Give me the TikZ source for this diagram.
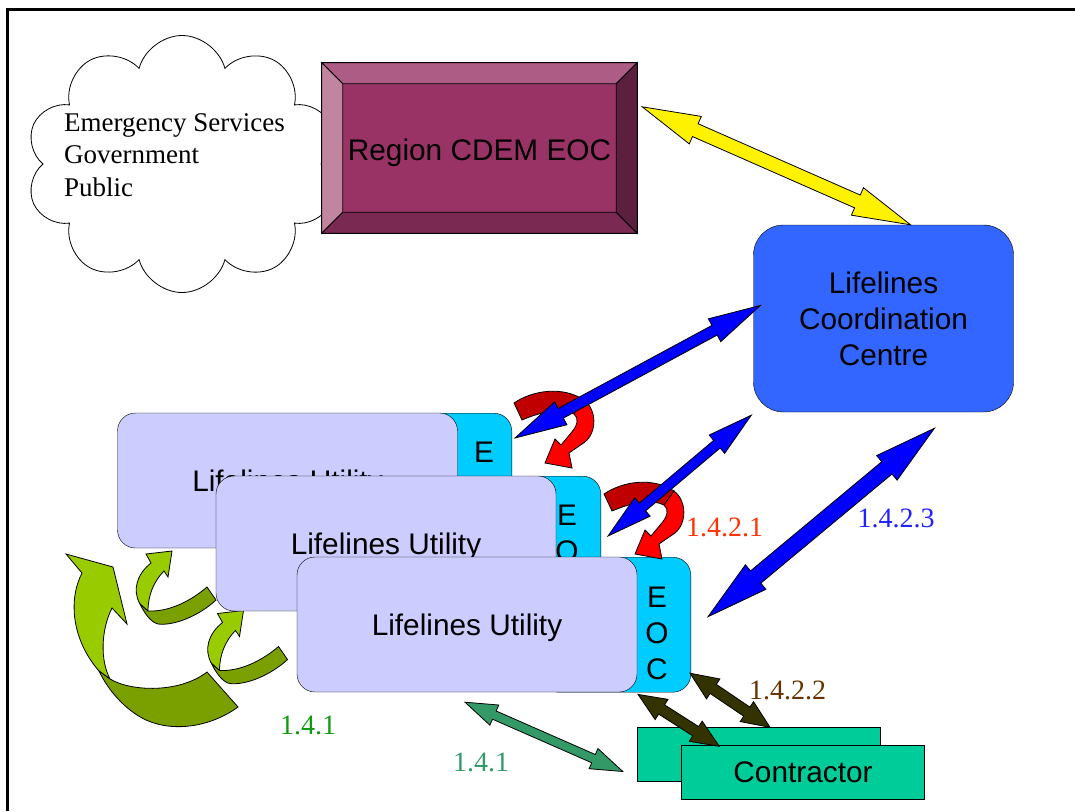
\documentclass[tikz,border=0pt]{standalone}
\usepackage{fontspec}
\setmainfont{Liberation Serif}
\setsansfont{Liberation Sans}
\usetikzlibrary{calc,shapes.symbols}

\definecolor{regionface}{HTML}{993366}
\definecolor{regiontop}{HTML}{AD5C85}
\definecolor{regionleft}{HTML}{C2859F}
\definecolor{regionbottom}{HTML}{7A2952}
\definecolor{regionright}{HTML}{5C1F3D}
\definecolor{lccblue}{HTML}{3366FF}
\definecolor{utillav}{HTML}{CCCCFF}
\definecolor{eoccyan}{HTML}{00CCFF}
\definecolor{contrgreen}{HTML}{00CC99}
\definecolor{seagreen}{HTML}{339966}
\definecolor{olivedark}{HTML}{333300}
\definecolor{leaflight}{HTML}{99CC00}
\definecolor{leafdark}{HTML}{7AA000}
\definecolor{reddark}{HTML}{C00000}
\definecolor{lblgreen}{HTML}{119911}
\definecolor{lblred}{HTML}{FF3300}
\definecolor{lblblue}{HTML}{2222FF}
\definecolor{lblbrown}{HTML}{663300}

\tikzset{
  sanstext/.style={font=\sffamily\fontsize{29.8}{36}\selectfont},
  seriftext/.style={font=\fontsize{28}{33}\selectfont},
  utilbox/.style={draw, fill=utillav, rounded corners=18, minimum width=340,
    minimum height=135, text depth=0, sanstext},
  eocbox/.style={draw, fill=eoccyan, rounded corners=18, minimum width=150,
    minimum height=135},
  eocletters/.style={sanstext, align=center},
  contrbox/.style={draw, fill=contrgreen, minimum width=243, minimum height=54, sanstext},
  blockline/.style={draw=black, line width=0.8, line join=miter},
}

% double block arrow: style, from, to, head length, head half width, shaft half width
\newcommand{\blockarrow}[6]{%
  \coordinate (ba-s) at ($(#2)!#4pt!(#3)$);
  \coordinate (ba-e) at ($(#3)!#4pt!(#2)$);
  \path[blockline, #1] (#2) -- ($(ba-s)!#5pt!90:(#3)$) -- ($(ba-s)!#6pt!90:(#3)$)
    -- ($(ba-e)!#6pt!-90:(#2)$) -- ($(ba-e)!#5pt!-90:(#2)$) -- (#3)
    -- ($(ba-e)!#5pt!90:(#2)$) -- ($(ba-e)!#6pt!90:(#2)$)
    -- ($(ba-s)!#6pt!-90:(#3)$) -- ($(ba-s)!#5pt!-90:(#3)$) -- cycle;
}

\begin{document}
\begin{tikzpicture}[x=1pt, y=-1pt]
    \useasboundingbox (0,0) rectangle (1075,811);
    \draw[line width=3] (7,811) -- (7,9) -- (1075,9);

    % cloud
    \node[cloud, draw, fill=white, cloud puffs=10, aspect=1.2, line width=0.8,
        minimum width=312, minimum height=257] (cloud) at (182,164) {};
    \node[align=left, anchor=west, inner sep=0, font=\fontsize{27}{32.5}\selectfont] (groups) at (64,155)
        {Emergency Services\\Government\\Public};

    % bevelled region box
    \node[fill=regionface, minimum width=315, minimum height=170, inner sep=0] (region) at (479.5,148) {};
    \coordinate (rin-nw) at ($(region.north west)+(21,21)$);
    \coordinate (rin-ne) at ($(region.north east)+(-21,21)$);
    \coordinate (rin-se) at ($(region.south east)+(-21,-21)$);
    \coordinate (rin-sw) at ($(region.south west)+(21,-21)$);
    \filldraw[fill=regiontop, line width=0.8] (region.north west) -- (region.north east) -- (rin-ne) -- (rin-nw) -- cycle;
    \filldraw[fill=regionleft, line width=0.8] (region.north west) -- (rin-nw) -- (rin-sw) -- (region.south west) -- cycle;
    \filldraw[fill=regionbottom, line width=0.8] (region.south west) -- (rin-sw) -- (rin-se) -- (region.south east) -- cycle;
    \filldraw[fill=regionright, line width=0.8] (region.north east) -- (region.south east) -- (rin-se) -- (rin-ne) -- cycle;
    \draw[line width=0.8] (region.north west) rectangle (region.south east);
    \node[sanstext, text depth=0] (regionlabel) at ($(region.center)+(0,2)$) {Region CDEM EOC};

    % coordination centre
    \node[draw, fill=lccblue, rounded corners=30, minimum width=260, minimum height=187,
        sanstext, align=center] (lcc) at (883.5,318.5) {Lifelines\\Coordination\\Centre};

    % curved green arrows between utilities
    \filldraw[fill=leaflight, line width=0.8] (66,554) -- (113,567) -- (127,624) -- (112,608)
        .. controls (101,630) and (100,660) .. (110,679) -- (99,671)
        .. controls (72,640) and (68,600) .. (82,573) -- cycle;
    \filldraw[fill=leafdark, line width=0.8] (110,679) .. controls (132,692) and (180,693) .. (207,672)
        -- (238,707) .. controls (212,726) and (175,733) .. (146,720)
        .. controls (125,710) and (108,690) .. (99,671) -- cycle;
    \foreach \dx/\dy in {0/0, 71.5/59.5} {
        \begin{scope}[shift={(\dx,\dy)}]
            \filldraw[fill=leaflight, line width=0.8] (172,551) -- (168,577) -- (164,571)
                .. controls (154,581) and (148,595) .. (148,611) -- (140,604)
                .. controls (132,590) and (137,574) .. (151,563) -- (146,554) -- cycle;
            \filldraw[fill=leafdark, line width=0.8] (148,611) .. controls (170,612) and (192,600) .. (207,587)
                -- (216,600) .. controls (200,615) and (175,626) .. (158,624)
                .. controls (150,622) and (144,612) .. (140,604) -- cycle;
        \end{scope}
    }

    % utilities with their EOC
    \node[eocbox, anchor=north east] (eoc1) at (512,413) {};
    \node[utilbox] (util1) at (287.5,480.5) {Lifelines Utility};
    \node[eocletters] (eoctxt1) at ($(eoc1.east)+(-28,8)$) {E\\O\\C};
    \node[eocbox, anchor=north east] (eoc2) at (601,476) {};
    \node[utilbox] (util2) at (386,543.5) {Lifelines Utility};
    \node[eocletters] (eoctxt2) at ($(eoc2.east)+(-34,8)$) {E\\O\\C};
    \node[eocbox, anchor=north east] (eoc3) at (691,557) {};
    \node[utilbox] (util3) at (467,624.5) {Lifelines Utility};
    \node[eocletters] (eoctxt3) at ($(eoc3.east)+(-34,9)$) {E\\O\\C};

    % contractors
    \node[contrbox] (contr1) at (758.5,754.5) {};
    \node[contrbox] (contr2) at (803,772.5) {Contractor};

    % curved red arrows between EOCs
    \foreach \dx/\dy in {0/0, 90/91} {
        \begin{scope}[shift={(\dx,\dy)}]
            \filldraw[fill=reddark, line width=0.8] (514,403) .. controls (533,390) and (563,386) .. (584,400)
                -- (574,414) .. controls (562,408) and (543,411) .. (522,420) -- cycle;
            \filldraw[fill=red, line width=0.8] (584,400) .. controls (597,410) and (597,432) .. (585,442)
                -- (569,453) -- (572,468) -- (545,463) -- (555,439) -- (561,445) -- (571,433)
                .. controls (578,425) and (579,418) .. (574,414) -- cycle;
        \end{scope}
    }

    % block arrows
    \coordinate (ylw-a) at ($(region.north east)+(5,44)$);
    \coordinate (ylw-b) at ($(lcc.north)+(27,0)$);
    \blockarrow{fill=yellow}{ylw-a}{ylw-b}{58}{15}{7}
    \coordinate (blu1-a) at ($(eoc1.north east)+(3,25)$);
    \coordinate (blu1-b) at ($(lcc.west)+(7,-13)$);
    \blockarrow{fill=blue}{blu1-a}{blu1-b}{52}{13}{5.5}
    \coordinate (blu2-a) at ($(eoc2.north east)+(7,60)$);
    \coordinate (blu2-b) at ($(lcc.south west)+(-2,3)$);
    \blockarrow{fill=blue}{blu2-a}{blu2-b}{45}{12}{5}
    \coordinate (blu3-a) at ($(eoc3.east)+(17,-8)$);
    \coordinate (blu3-b) at ($(lcc.south)+(51,16)$);
    \blockarrow{fill=blue}{blu3-a}{blu3-b}{62}{16}{8}
    \coordinate (sea-a) at ($(util3.south)+(-2,10)$);
    \coordinate (sea-b) at ($(contr1.west)+(-14,17)$);
    \blockarrow{fill=seagreen}{sea-a}{sea-b}{32}{11}{4.5}
    \coordinate (olv1-a) at ($(eoc3.south east)+(-53,2)$);
    \coordinate (olv1-b) at ($(contr2.north west)+(38,1)$);
    \blockarrow{fill=olivedark}{olv1-a}{olv1-b}{28}{12}{5.5}
    \coordinate (olv2-a) at ($(eoc3.east)+(-1,48.5)$);
    \coordinate (olv2-b) at ($(contr1.north)+(11.5,0)$);
    \blockarrow{fill=olivedark}{olv2-a}{olv2-b}{28}{12}{5.5}

    % labels
    \node[seriftext, text=lblred] (lbl1421) at (724.5,527) {1.4.2.1};
    \node[seriftext, text=lblblue] (lbl1423) at (896,518) {1.4.2.3};
    \node[seriftext, text=lblbrown] (lbl1422) at (787.5,690) {1.4.2.2};
    \node[seriftext, text=lblgreen] (lbl141a) at (308,725) {1.4.1};
    \node[seriftext, text=seagreen] (lbl141b) at (481,762) {1.4.1};
\end{tikzpicture}
\end{document}
